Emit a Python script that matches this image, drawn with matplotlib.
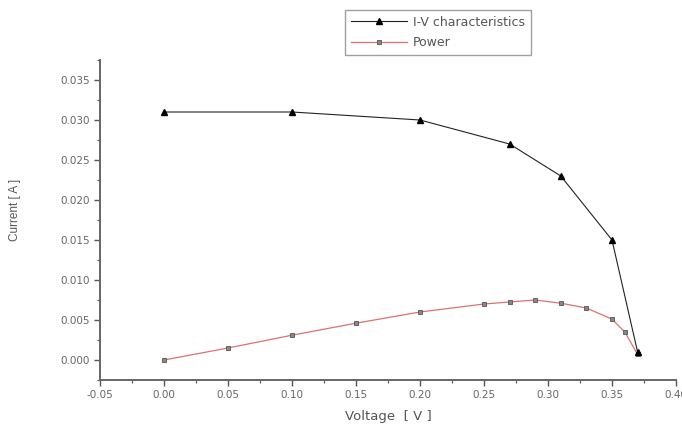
import matplotlib
matplotlib.use("Agg")
import matplotlib.pyplot as plt
from matplotlib.ticker import MultipleLocator, FormatStrFormatter

plt.rcParams['font.family'] = ['Liberation Sans', 'DejaVu Sans']

iv_voltage = [0.0, 0.10, 0.20, 0.27, 0.31, 0.35, 0.37]
iv_current = [0.031, 0.031, 0.030, 0.027, 0.023, 0.015, 0.001]

p_voltage = [0.0, 0.05, 0.10, 0.15, 0.20, 0.25, 0.27, 0.29, 0.31, 0.33, 0.35, 0.36, 0.37]
p_power = [0.0, 0.0015, 0.0031, 0.0046, 0.0060, 0.0070, 0.00725, 0.0075, 0.0071, 0.0065, 0.0051, 0.0035, 0.0007]

series_labels = ["I-V characteristics", "Power"]

fig = plt.figure(figsize=(6.82, 4.28), dpi=100)
ax = fig.add_axes([100/682, 1-380/428, 576/682, 320/428])

ax.plot(iv_voltage, iv_current, color='#222222', lw=0.8, marker='^', ms=5,
        markerfacecolor='black', markeredgecolor='black', label=series_labels[0], zorder=3)
ax.plot(p_voltage, p_power, color='#e07070', lw=0.9, marker='s', ms=3.2,
        markerfacecolor='#888888', markeredgecolor='#555555', markeredgewidth=0.6,
        label=series_labels[1], zorder=2)

ax.set_xlim(-0.05, 0.40)
ax.set_ylim(-0.0025, 0.0375)
ax.xaxis.set_major_locator(MultipleLocator(0.05))
ax.xaxis.set_minor_locator(MultipleLocator(0.025))
ax.yaxis.set_major_locator(MultipleLocator(0.005))
ax.yaxis.set_minor_locator(MultipleLocator(0.0025))
ax.xaxis.set_major_formatter(FormatStrFormatter('%.2f'))
ax.yaxis.set_major_formatter(FormatStrFormatter('%.3f'))

for s in ['top', 'right']:
    ax.spines[s].set_visible(False)
for s in ['left', 'bottom']:
    ax.spines[s].set_color('#666666')
    ax.spines[s].set_linewidth(1.4)

ax.tick_params(which='both', direction='out', colors='#555555', labelcolor='#666666',
               labelsize=8)
ax.tick_params(which='major', length=4, width=1)
ax.tick_params(which='minor', length=2.5, width=0.8)
for lab in ax.get_xticklabels() + ax.get_yticklabels():
    lab.set_fontfamily(['DejaVu Sans'])
    lab.set_fontsize(7.5)

ax.set_xlabel('Voltage  [ V ]', fontsize=9.5, color='#555555', family=['DejaVu Sans'])
ax.xaxis.set_label_coords((388-100)/576, -(410-380)/320)
ax.set_ylabel('Current [ A ]', fontsize=8.5, color='#555555')
ax.yaxis.set_label_coords(-(100-21)/576, (380-210)/320)

leg = fig.legend(loc='upper left', bbox_to_anchor=(345/682, 1-10/428),
                 prop={'family': ['DejaVu Sans'], 'size': 9},
                 frameon=True, fancybox=False, borderpad=0.45, handlelength=4.5,
                 handletextpad=0.5, labelspacing=0.6, labelcolor='#555555', borderaxespad=0)
leg.get_frame().set_edgecolor('#888888')
leg.get_frame().set_linewidth(1.0)

fig.savefig('out.png', dpi=100)
